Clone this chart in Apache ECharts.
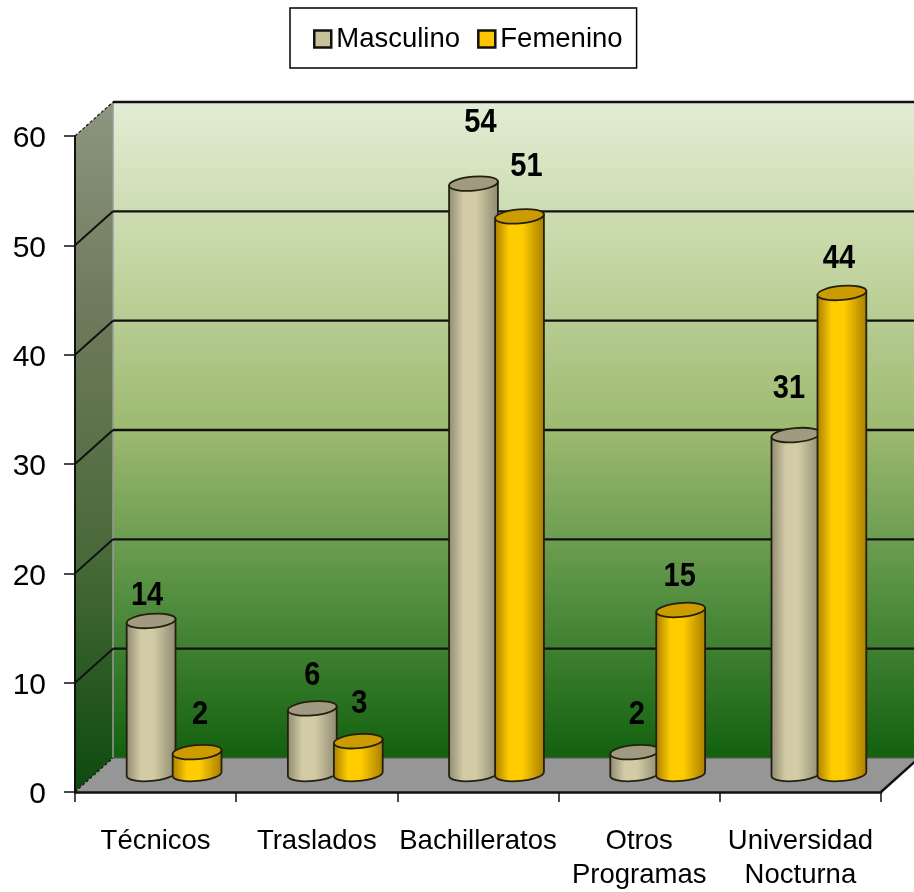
<!DOCTYPE html>
<html>
<head>
<meta charset="utf-8">
<style>html,body{margin:0;padding:0;background:#fff}#c{width:914px;height:892px}</style>
<script src="https://cdn.jsdelivr.net/npm/echarts@6/dist/echarts.min.js"></script>
</head>
<body>
<div id="c"></div>
<script>
const categories = ['Técnicos', 'Traslados', 'Bachilleratos', 'Otros\nProgramas', 'Universidad\nNocturna'];
const masculino = [14, 6, 54, 2, 31];
const femenino = [2, 3, 51, 15, 44];
const yTicks = [0, 10, 20, 30, 40, 50, 60];

// layout constants (depth of the pseudo-3D box, cylinder geometry, label nudges)
const DEPTH_X = 38, DEPTH_Y = 34;
const BAR_RX = 24.5, BAR_RY = 7, TILT = -5;
const MID_DY = 18;
const maleLabelNudge = [[-4, -26], [0, -34], [7, -62], [2, -38], [-7, -47]];
const femaleLabelNudge = [[3, -38], [1, -38], [7, -51], [-1, -34], [-3, -35]];
const FONT = '"Liberation Sans",Arial,sans-serif';

const chart = echarts.init(document.getElementById('c'), null, {renderer: 'canvas'});

function wallItem(params, api) {
  const cs = params.coordSys;
  const v = api.value(1);
  const y = api.coord([0, v])[1];
  const x0 = cs.x, x1 = cs.x + cs.width;
  const yTop = cs.y, yBot = cs.y + cs.height;
  const children = [];
  if (params.dataIndex === 0) {
    children.push({
      type: 'polygon', silent: true,
      shape: {points: [[x0 + DEPTH_X, yTop - DEPTH_Y], [x1 + DEPTH_X, yTop - DEPTH_Y], [x1 + DEPTH_X, yBot - DEPTH_Y], [x0 + DEPTH_X, yBot - DEPTH_Y]]},
      style: {fill: {type: 'linear', x: 0, y: 0, x2: 0, y2: 1, colorStops: [
        {offset: 0, color: '#e1edd4'}, {offset: 0.25, color: '#c3d5a2'},
        {offset: 0.5, color: '#9dba70'}, {offset: 0.75, color: '#558f41'},
        {offset: 1, color: '#12610f'}]}}
    });
    children.push({
      type: 'polygon', silent: true,
      shape: {points: [[x0, yTop], [x0 + DEPTH_X, yTop - DEPTH_Y], [x0 + DEPTH_X, yBot - DEPTH_Y], [x0, yBot]]},
      style: {fill: {type: 'linear', x: 0, y: 0, x2: 0, y2: 1, colorStops: [
        {offset: 0, color: '#8d9680'}, {offset: 0.3, color: '#6f7a5c'},
        {offset: 0.65, color: '#4a6a3a'}, {offset: 1, color: '#0d4a0d'}]}}
    });
    children.push({
      type: 'polygon', silent: true,
      shape: {points: [[x0, yBot], [x0 + DEPTH_X, yBot - DEPTH_Y], [x1 + DEPTH_X, yBot - DEPTH_Y], [x1, yBot]]},
      style: {fill: '#969696'}
    });
    children.push({
      type: 'line', silent: true,
      shape: {x1: x0 + DEPTH_X, y1: yTop - DEPTH_Y, x2: x0 + DEPTH_X, y2: yBot - DEPTH_Y},
      style: {stroke: '#9a9a9a', lineWidth: 1.5}
    });
    children.push({
      type: 'line', silent: true,
      shape: {x1: x1, y1: yBot, x2: x1 + DEPTH_X, y2: yBot - DEPTH_Y},
      style: {stroke: '#111', lineWidth: 2.4}
    });
    children.push({
      type: 'line', silent: true,
      shape: {x1: x0 + DEPTH_X, y1: yBot - DEPTH_Y, x2: x1 + DEPTH_X, y2: yBot - DEPTH_Y},
      style: {stroke: '#5a5a5a', lineWidth: 1}
    });
  }
  if (v > 0) {
    children.push({
      type: 'line', silent: true,
      shape: {x1: x0 + DEPTH_X, y1: y - DEPTH_Y, x2: x1 + DEPTH_X, y2: y - DEPTH_Y},
      style: {stroke: '#111', lineWidth: 2.4}
    });
  }
  children.push({
    type: 'line', silent: true,
    shape: {x1: x0, y1: y, x2: x0 + DEPTH_X, y2: y - DEPTH_Y},
    style: {stroke: '#111', lineWidth: v === 0 || v === 60 ? 1.2 : 2, lineDash: v === 0 || v === 60 ? [3, 2] : null}
  });
  return {type: 'group', children};
}

function cylinderRenderer(barOffset, nudge, edge, mid, cap) {
  return function (params, api) {
    const idx = api.value(0);
    const v = api.value(1);
    const top = api.coord([idx, v]);
    const base = api.coord([idx, 0]);
    const cx = base[0] + barOffset;
    const yb = base[1] - MID_DY;
    const yt = top[1] - MID_DY;
    const t = TILT * Math.PI / 180;
    const dx = BAR_RX * Math.cos(t), dy = BAR_RX * Math.sin(t);
    const path = 'M' + (cx - dx) + ' ' + (yt - dy) +
      'L' + (cx - dx) + ' ' + (yb - dy) +
      'A' + BAR_RX + ' ' + BAR_RY + ' ' + TILT + ' 0 0 ' + (cx + dx) + ' ' + (yb + dy) +
      'L' + (cx + dx) + ' ' + (yt + dy) + 'Z';
    const n = nudge[params.dataIndex];
    return {
      type: 'group',
      children: [
        {
          type: 'path',
          shape: {pathData: path, layout: 'none'},
          style: {
            fill: {type: 'linear', x: 0, y: 0, x2: 1, y2: 0, colorStops: [
              {offset: 0, color: edge}, {offset: 0.3, color: mid},
              {offset: 0.55, color: mid}, {offset: 1, color: edge}]},
            stroke: '#23200f', lineWidth: 1.8
          }
        },
        {
          type: 'ellipse',
          shape: {cx: 0, cy: 0, rx: BAR_RX, ry: BAR_RY},
          x: cx, y: yt, rotation: -t,
          style: {fill: cap, stroke: '#23200f', lineWidth: 1.8}
        },
        {
          type: 'text', silent: true,
          x: cx + n[0], y: yt + n[1] + 1, scaleY: 1.15,
          style: {
            text: String(v), x: 0, y: 0,
            align: 'center', verticalAlign: 'middle',
            font: 'bold 29px ' + FONT, fill: '#000'
          }
        }
      ]
    };
  };
}

chart.setOption({
  animation: false,
  backgroundColor: '#fff',
  grid: {left: 75, right: 33, top: 136, bottom: 100, containLabel: false},
  legend: {
    left: 290, top: 8,
    padding: [17, 14, 15, 23],
    backgroundColor: '#fff',
    borderColor: '#000', borderWidth: 1.5, borderRadius: 0,
    itemWidth: 17, itemHeight: 17, itemGap: 17, selectedMode: false,
    textStyle: {fontFamily: FONT, fontSize: 27.5, color: '#000'},
    data: [
      {name: 'Masculino', icon: 'rect', itemStyle: {color: '#c9c199', borderColor: '#111', borderWidth: 2.5}},
      {name: 'Femenino', icon: 'rect', itemStyle: {color: '#ffc400', borderColor: '#111', borderWidth: 2.5}}
    ]
  },
  xAxis: {
    type: 'category', data: categories, z: 5,
    axisLine: {show: true, lineStyle: {color: '#111', width: 2.5}},
    axisTick: {show: true, length: 10, lineStyle: {color: '#111', width: 1.5}},
    axisLabel: {interval: 0, margin: 32, fontFamily: FONT, fontSize: 27.5, lineHeight: 34, color: '#000', hideOverlap: false},
    splitLine: {show: false}
  },
  yAxis: {
    type: 'value', min: 0, max: 60, interval: 10, z: 5,
    axisLine: {show: true, lineStyle: {color: '#111', width: 2}},
    axisTick: {show: true, length: 11, lineStyle: {color: '#111', width: 1.5}},
    axisLabel: {
      margin: 29, color: '#000',
      formatter: v => yTicks.includes(v) ? '{t|' + v + '}' : '',
      rich: {t: {fontFamily: FONT, fontSize: 30, color: '#000', padding: [6, 0, 0, 0]}}
    },
    splitLine: {show: false}
  },
  series: [
    {
      name: 'walls', type: 'custom', z: 1, clip: false, silent: true,
      encode: {x: 0, y: 1},
      data: yTicks.map(v => [0, v]),
      renderItem: wallItem
    },
    {
      name: 'Masculino', type: 'custom', z: 2, clip: false,
      encode: {x: 0, y: 1},
      itemStyle: {color: '#c9c199'},
      data: masculino.map((v, i) => [i, v]),
      renderItem: cylinderRenderer(-4.5, maleLabelNudge, '#8d8870', '#d3cba5', '#a09a80')
    },
    {
      name: 'Femenino', type: 'custom', z: 3, clip: false,
      encode: {x: 0, y: 1},
      itemStyle: {color: '#ffc400'},
      data: femenino.map((v, i) => [i, v]),
      renderItem: cylinderRenderer(41.5, femaleLabelNudge, '#a67c00', '#ffcc00', '#cc9b00')
    }
  ]
});
</script>
</body>
</html>
